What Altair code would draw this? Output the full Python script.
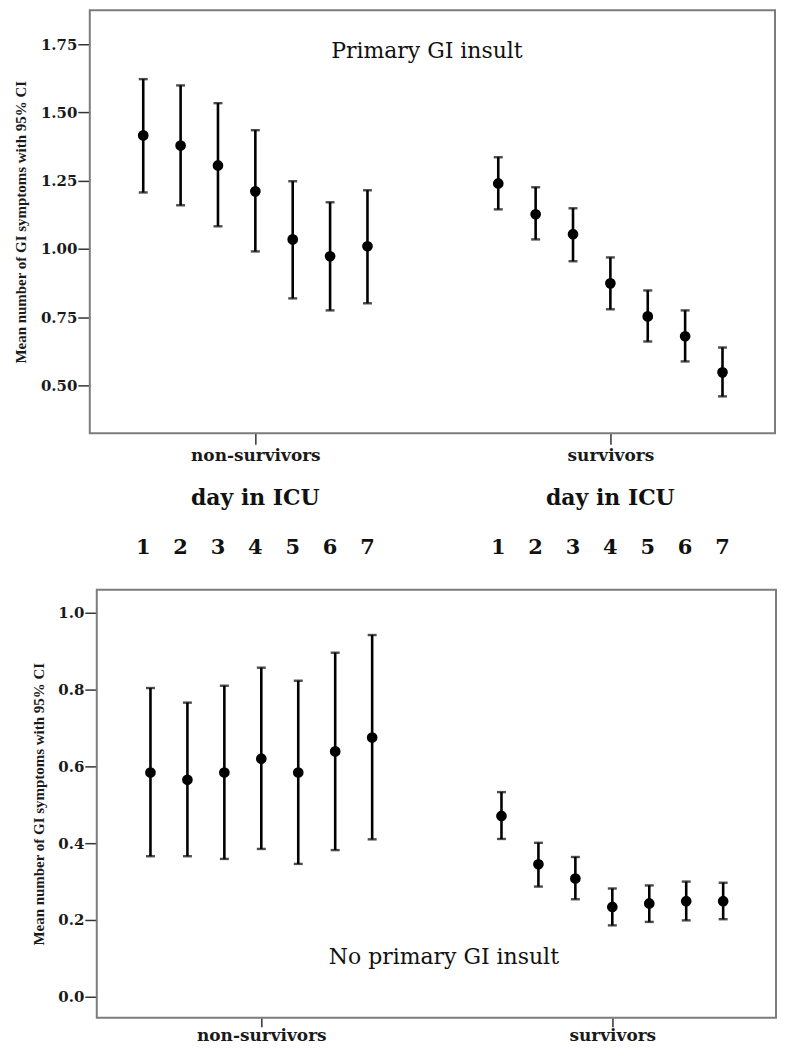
import altair as alt
import pandas as pd

days = [1, 2, 3, 4, 5, 6, 7]
groups = ["non-survivors", "survivors"]
GAP = 9.5  # distance between the two group centres, in day units

# Primary GI insult (top panel)
top_ns_mean = [1.416, 1.379, 1.306, 1.211, 1.035, 0.973, 1.010]
top_ns_low = [1.207, 1.160, 1.083, 0.991, 0.819, 0.775, 0.801]
top_ns_up = [1.622, 1.599, 1.534, 1.435, 1.248, 1.171, 1.215]
top_s_mean = [1.240, 1.127, 1.054, 0.874, 0.753, 0.680, 0.548]
top_s_low = [1.145, 1.035, 0.955, 0.779, 0.661, 0.588, 0.460]
top_s_up = [1.336, 1.226, 1.149, 0.969, 0.848, 0.775, 0.639]

# No primary GI insult (bottom panel)
bot_ns_mean = [0.584, 0.565, 0.584, 0.620, 0.584, 0.639, 0.675]
bot_ns_low = [0.366, 0.366, 0.359, 0.385, 0.346, 0.382, 0.410]
bot_ns_up = [0.804, 0.766, 0.810, 0.857, 0.823, 0.896, 0.942]
bot_s_mean = [0.471, 0.345, 0.308, 0.234, 0.243, 0.249, 0.249]
bot_s_low = [0.411, 0.287, 0.254, 0.186, 0.195, 0.199, 0.202]
bot_s_up = [0.533, 0.401, 0.364, 0.282, 0.290, 0.300, 0.297]

top_ticks = [0.50, 0.75, 1.00, 1.25, 1.50, 1.75]
bot_ticks = [0.0, 0.2, 0.4, 0.6, 0.8, 1.0]

Y_TITLE = "Mean number of GI symptoms with 95% CI"
FRAME = "#7c7c7c"


def build_df(ns_mean, ns_low, ns_up, s_mean, s_low, s_up):
    rows = []
    for gi, (m, lo, up) in enumerate([(ns_mean, ns_low, ns_up), (s_mean, s_low, s_up)]):
        for d, a, b, c in zip(days, m, lo, up):
            rows.append({"group": groups[gi], "day": d, "pos": d + gi * GAP,
                         "mean": a, "low": b, "up": c})
    return pd.DataFrame(rows)


def panel(df, ydomain, yticks, yfmt, xdomain, width, height, frame_x,
          title_size, title_x, y_offset, label, label_x, label_y,
          xtick, xpad, extra=None):
    xs = alt.Scale(domain=xdomain, nice=False, zero=False)
    ys = alt.Scale(domain=ydomain, nice=False, zero=False)
    xax = alt.Axis(values=[4, 4 + GAP],
                   labelExpr="datum.value < 9 ? 'non-survivors' : 'survivors'",
                   title=None, grid=False, domain=False, tickSize=xtick,
                   tickColor="#333333", tickWidth=1.5,
                   labelFont="DejaVu Serif", labelFontWeight="bold",
                   labelFontSize=17, labelPadding=xpad, labelColor="#1a1a1a")
    yax = alt.Axis(values=yticks, format=yfmt, title=Y_TITLE, grid=False,
                   domain=False, tickSize=12, tickColor="#333333", tickWidth=1.5,
                   labelFont="DejaVu Serif", labelFontWeight="bold",
                   labelFontSize=15, labelPadding=1, labelColor="#1a1a1a",
                   titleFont="Liberation Serif", titleFontWeight="bold",
                   titleFontSize=title_size, titleColor="#1a1a1a",
                   titleX=title_x, offset=y_offset)
    base = alt.Chart(df)
    rule = base.mark_rule(strokeWidth=2.6, color="black").encode(
        x=alt.X("pos:Q", scale=xs, axis=xax),
        y=alt.Y("low:Q", scale=ys, axis=yax),
        y2="up:Q")
    cap_lo = base.mark_tick(orient="horizontal", size=9, thickness=2.4,
                            color="black").encode(x="pos:Q", y="low:Q")
    cap_up = base.mark_tick(orient="horizontal", size=9, thickness=2.4,
                            color="black").encode(x="pos:Q", y="up:Q")
    dots = base.mark_point(filled=True, shape="circle", size=115, color="black",
                           opacity=1).encode(x="pos:Q", y="mean:Q")
    frame = alt.Chart(pd.DataFrame({"f": [0]})).mark_rect(
        fill="white", fillOpacity=0, stroke=FRAME, strokeWidth=2).encode(
        x=alt.value(frame_x), x2=alt.value(width), y=alt.value(0),
        y2=alt.value(height))
    txt = alt.Chart(pd.DataFrame({"t": [label]})).mark_text(
        font="DejaVu Serif", fontSize=22, color="#111111").encode(
        text="t:N", x=alt.value(label_x), y=alt.value(label_y))
    layers = [frame, rule, cap_lo, cap_up, dots, txt]
    if extra:
        layers += extra
    return alt.layer(*layers).properties(width=width, height=height)


top_df = build_df(top_ns_mean, top_ns_low, top_ns_up, top_s_mean, top_s_low, top_s_up)
bot_df = build_df(bot_ns_mean, bot_ns_low, bot_ns_up, bot_s_mean, bot_s_low, bot_s_up)

TOP_H = 424
day_title = alt.Chart(pd.DataFrame({"pos": [4, 4 + GAP], "t": ["day in ICU"] * 2})).mark_text(
    font="DejaVu Serif", fontWeight="bold", fontSize=22, color="#111111").encode(
    x="pos:Q", text="t:N", y=alt.value(TOP_H + 65))
digit_df = pd.DataFrame({"pos": [d + gi * GAP for gi in range(2) for d in days],
                         "t": [str(d) for gi in range(2) for d in days]})
day_digits = alt.Chart(digit_df).mark_text(
    font="DejaVu Serif", fontWeight="bold", fontSize=21, color="#111111").encode(
    x="pos:Q", text="t:N", y=alt.value(TOP_H + 115))

top = panel(top_df, [0.325, 1.874], top_ticks, ".2f", [-0.43, 17.905], 687, TOP_H,
            0, 15, -61, 0, "Primary GI insult", 338, 41, 11, 3,
            extra=[day_title, day_digits])
bottom = panel(bot_df, [-0.0545, 1.0597], bot_ticks, ".1f", [-0.642, 17.93], 688, 429,
               7, 15, -50, -7, "No primary GI insult", 355, 368, 9, 1)

chart = alt.vconcat(top, bottom, spacing=157, bounds="flush").properties(
    padding={"left": 6, "top": 0, "right": 0, "bottom": 0}
).configure_view(stroke=None)

chart.save("out.html", embed_options={"renderer": "svg", "actions": False})
